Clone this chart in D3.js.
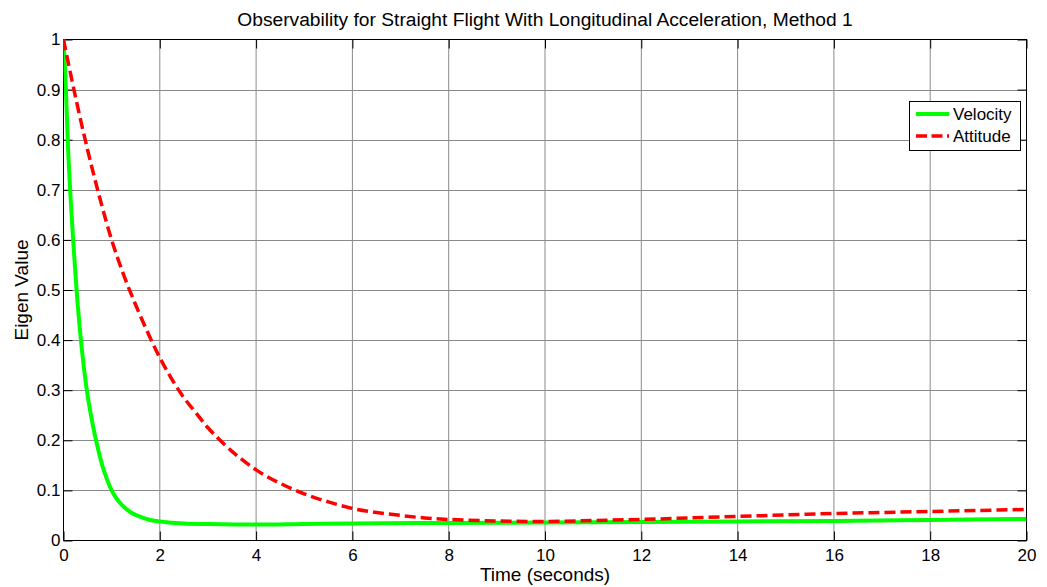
<!DOCTYPE html>
<html>
<head>
<meta charset="utf-8">
<script src="https://cdn.jsdelivr.net/npm/d3@7"></script>
<style>
  body { margin: 0; background: #fff; }
  text { font-family: "Liberation Sans", Arial, Helvetica, sans-serif; fill: #000; }
</style>
</head>
<body>
<script>
/*
Data
*/
const velocityTime = [0, 0.05, 0.1, 0.15, 0.2, 0.25, 0.3, 0.4, 0.5, 0.6, 0.7, 0.8, 0.9, 1.0, 1.1, 1.2, 1.4, 1.6, 1.8, 2.0, 2.5, 3, 4, 5, 6, 8, 10, 12, 14, 16, 18, 20];
const velocityValue = [1.0, 0.9, 0.77, 0.68, 0.6, 0.53, 0.465, 0.365, 0.29, 0.235, 0.19, 0.152, 0.123, 0.1, 0.084, 0.072, 0.056, 0.047, 0.041, 0.038, 0.034, 0.033, 0.032, 0.033, 0.034, 0.035, 0.036, 0.037, 0.038, 0.039, 0.041, 0.043];

const attitudeTime = [0, 0.25, 0.5, 0.75, 1.0, 1.25, 1.5, 1.75, 2.0, 2.25, 2.5, 2.75, 3.0, 3.5, 4, 4.5, 5, 5.5, 6, 6.5, 7, 7.5, 8, 9, 10, 11, 12, 13, 14, 15, 16, 17, 18, 19, 20];
const attitudeValue = [1.0, 0.885, 0.78, 0.685, 0.6, 0.53, 0.47, 0.415, 0.365, 0.322, 0.285, 0.255, 0.225, 0.178, 0.141, 0.114, 0.093, 0.077, 0.064, 0.056, 0.05, 0.045, 0.042, 0.039, 0.038, 0.04, 0.042, 0.045, 0.048, 0.051, 0.054, 0.056, 0.058, 0.06, 0.062];

const xTicks = [0, 2, 4, 6, 8, 10, 12, 14, 16, 18, 20];
const yTicks = [0, 0.1, 0.2, 0.3, 0.4, 0.5, 0.6, 0.7, 0.8, 0.9, 1];

const seriesNames = ['Velocity', 'Attitude'];

const width = 1047;
const height = 587;
const plot = {left: 63.5, right: 1026.5, top: 39.5, bottom: 540.5};

var svg = d3.select('body')
	.append('svg')
	.attr('width', width)
	.attr('height', height);

let x = d3.scaleLinear()
	.domain([0, 20])
	.range([plot.left, plot.right]);

let y = d3.scaleLinear()
	.domain([0, 1])
	.range([plot.bottom, plot.top]);

// grid
svg.append('g')
	.selectAll('line')
	.data(xTicks.slice(1, -1))
	.enter()
		.append('line')
		.attr('x1', d => x(d)).attr('x2', d => x(d))
		.attr('y1', plot.top).attr('y2', plot.bottom)
		.attr('stroke', '#8a8a8a')
		.attr('stroke-width', 1);

svg.append('g')
	.selectAll('line')
	.data(yTicks.slice(1, -1))
	.enter()
		.append('line')
		.attr('x1', plot.left).attr('x2', plot.right)
		.attr('y1', d => Math.round(y(d)) + 0.5).attr('y2', d => Math.round(y(d)) + 0.5)
		.attr('stroke', '#8a8a8a')
		.attr('stroke-width', 1);

// axes, ticks pointing inward on all four sides
let tickLen = 9;

let bottomAxis = svg.append('g')
	.attr('transform', `translate(0,${plot.bottom})`)
	.call(d3.axisBottom(x).tickValues(xTicks).tickSizeInner(-tickLen).tickSizeOuter(0));
let topAxis = svg.append('g')
	.attr('transform', `translate(0,${plot.top})`)
	.call(d3.axisTop(x).tickValues(xTicks).tickSizeInner(-tickLen).tickSizeOuter(0).tickFormat(''));
let leftAxis = svg.append('g')
	.attr('transform', `translate(${plot.left},0)`)
	.call(d3.axisLeft(y).tickValues(yTicks).tickSizeInner(-tickLen).tickSizeOuter(0).tickFormat(d3.format('')));
let rightAxis = svg.append('g')
	.attr('transform', `translate(${plot.right},0)`)
	.call(d3.axisRight(y).tickValues(yTicks).tickSizeInner(-tickLen).tickSizeOuter(0).tickFormat(''));

[bottomAxis, topAxis, leftAxis, rightAxis].forEach(g => {
	g.select('.domain').remove();
	g.selectAll('.tick line').attr('stroke', '#000');
	g.selectAll('text').attr('font-size', 17).attr('font-family', null);
});

bottomAxis.selectAll('text').attr('dy', null).attr('y', 20);
leftAxis.selectAll('text').attr('x', -3);

svg.append('rect')
	.attr('x', plot.left)
	.attr('y', plot.top)
	.attr('width', plot.right - plot.left)
	.attr('height', plot.bottom - plot.top)
	.attr('fill', 'none')
	.attr('stroke', '#000')
	.attr('stroke-width', 1);

// lines
svg.append('clipPath')
	.attr('id', 'clip')
	.append('rect')
	.attr('x', plot.left)
	.attr('y', plot.top - 3)
	.attr('width', plot.right - plot.left)
	.attr('height', plot.bottom - plot.top + 3);

let line = d3.line()
	.x(d => x(d[0]))
	.y(d => y(d[1]))
	.curve(d3.curveCatmullRom.alpha(0.5));

let velocity = velocityTime.map((t, i) => [t, velocityValue[i]]);
let attitude = attitudeTime.map((t, i) => [t, attitudeValue[i]]);

svg.append('path')
	.datum(velocity)
	.attr('clip-path', 'url(#clip)')
	.attr('d', line)
	.attr('fill', 'none')
	.attr('stroke', '#00ff00')
	.attr('stroke-width', 4);

svg.append('path')
	.datum(attitude)
	.attr('clip-path', 'url(#clip)')
	.attr('d', line)
	.attr('fill', 'none')
	.attr('stroke', '#ff0000')
	.attr('stroke-width', 3.5)
	.attr('stroke-dasharray', '11,5');

// labels
svg.append('text')
	.attr('x', (plot.left + plot.right) / 2)
	.attr('y', 26)
	.attr('text-anchor', 'middle')
	.attr('font-size', 19.2)
	.text('Observability for Straight Flight With Longitudinal Acceleration, Method 1');

svg.append('text')
	.attr('x', (plot.left + plot.right) / 2)
	.attr('y', 581)
	.attr('text-anchor', 'middle')
	.attr('font-size', 19)
	.text('Time (seconds)');

svg.append('text')
	.attr('transform', `translate(28,${(plot.top + plot.bottom) / 2}) rotate(-90)`)
	.attr('text-anchor', 'middle')
	.attr('font-size', 19)
	.text('Eigen Value');

// legend
let legend = svg.append('g')
	.attr('transform', 'translate(909.5,101.5)');

legend.append('rect')
	.attr('width', 111)
	.attr('height', 49)
	.attr('fill', '#fff')
	.attr('stroke', '#000')
	.attr('stroke-width', 1);

let legendStyles = [
	{color: '#00ff00', dash: null, width: 4},
	{color: '#ff0000', dash: '11,4.5', width: 3.5}
];

seriesNames.forEach((name, i) => {
	let row = legend.append('g')
		.attr('transform', `translate(0,${12.5 + i * 22})`);
	row.append('line')
		.attr('x1', 6.5).attr('x2', 39.5)
		.attr('stroke', legendStyles[i].color)
		.attr('stroke-width', legendStyles[i].width)
		.attr('stroke-dasharray', legendStyles[i].dash);
	row.append('text')
		.attr('x', 43.5)
		.attr('y', 6)
		.attr('font-size', 17)
		.text(name);
});
</script>
</body>
</html>
